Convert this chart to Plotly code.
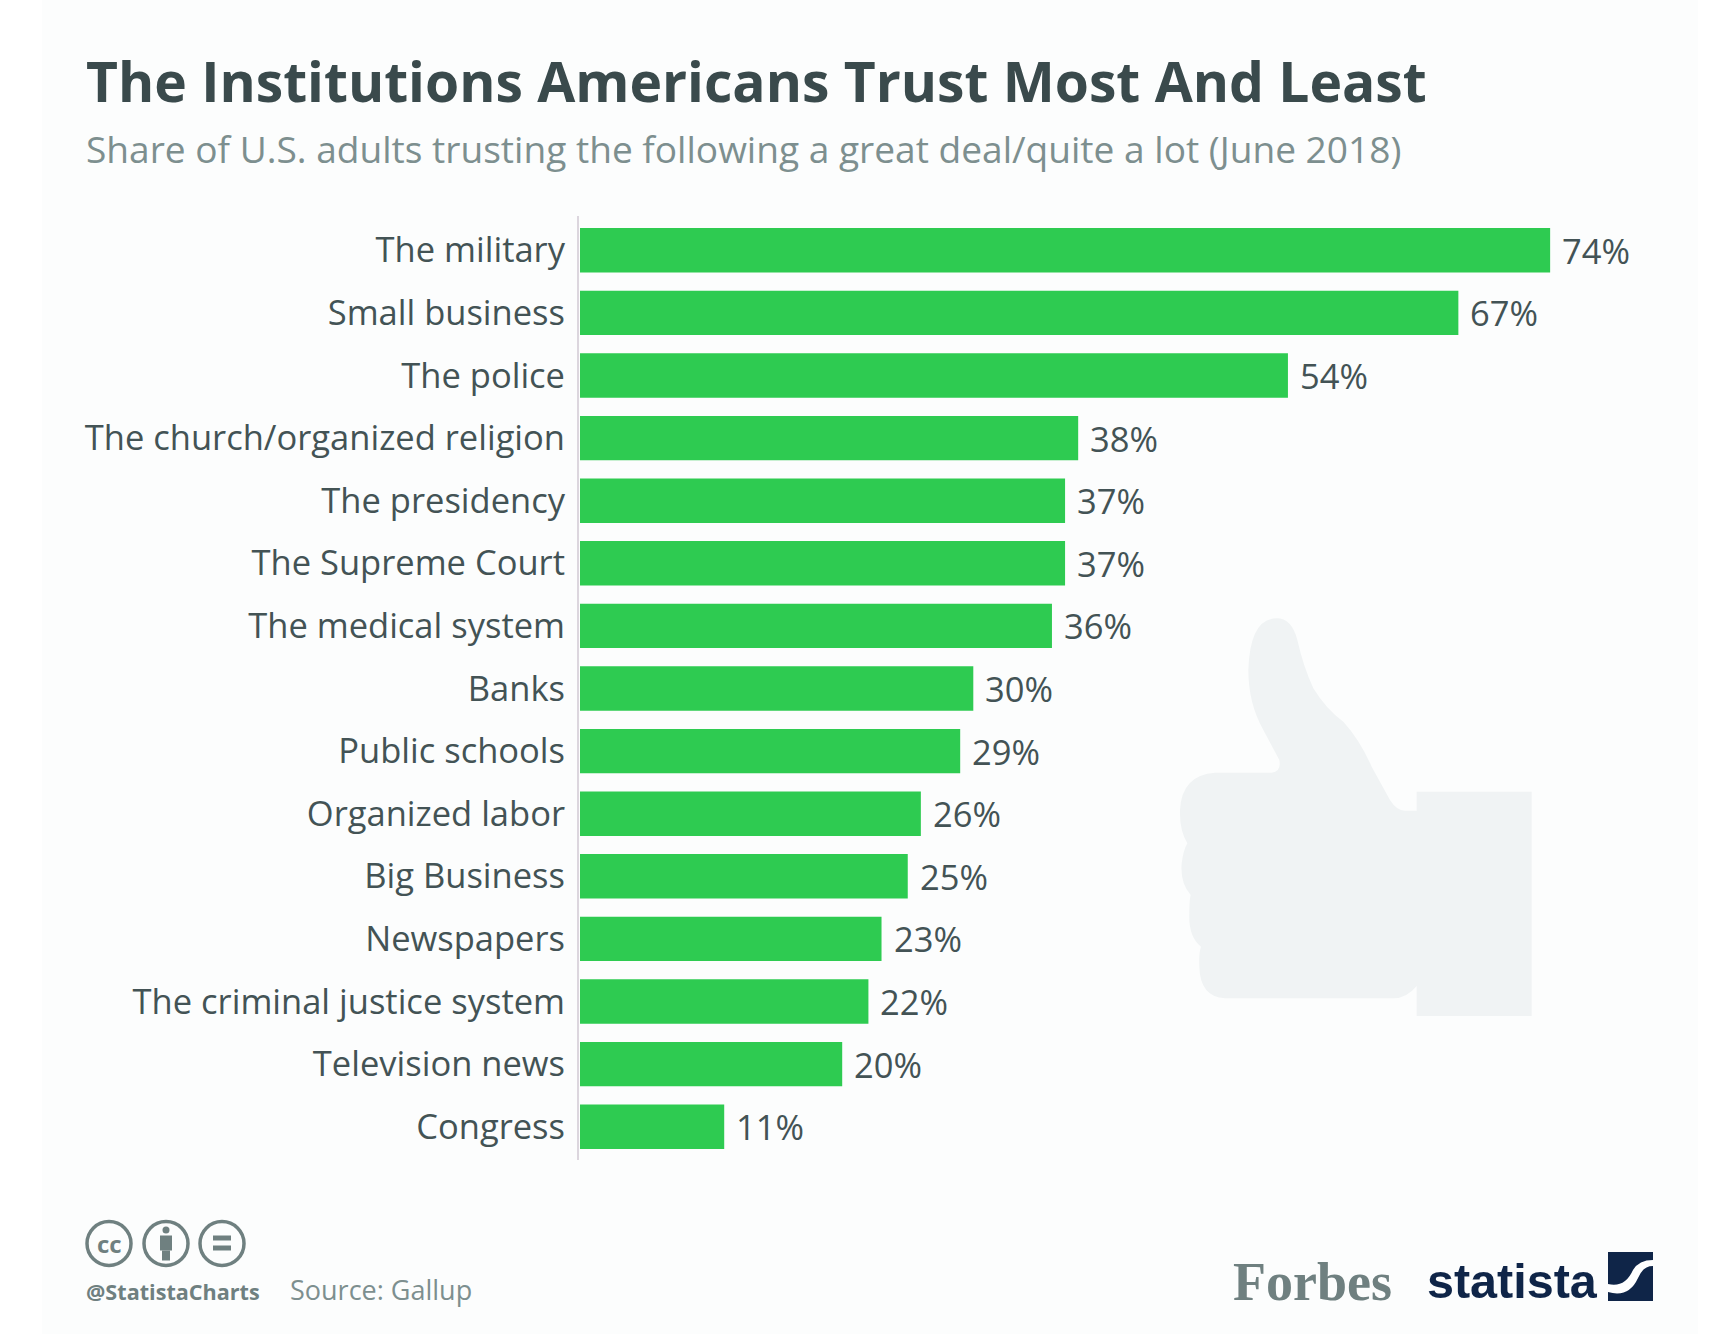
import plotly.graph_objects as go

W = 1732
H = 1334

institutions = ["The military", "Small business", "The police", "The church/organized religion",
                "The presidency", "The Supreme Court", "The medical system", "Banks", "Public schools",
                "Organized labor", "Big Business", "Newspapers", "The criminal justice system",
                "Television news", "Congress"]
trust_share = [74, 67, 54, 38, 37, 37, 36, 30, 29, 26, 25, 23, 22, 20, 11]

title_text = "The Institutions Americans Trust Most And Least"
subtitle_text = "Share of U.S. adults trusting the following a great deal/quite a lot (June 2018)"

GREEN = "#2ecb51"
DARK = "#3a4a4c"
LABEL = "#435355"
GREY = "#7d8f8f"
ICON = "#6f8080"
NAVY = "#0f2548"
PANEL = "#fcfdfd"
THUMB = "#f0f3f4"


def px(x):
    return x / W


def py(y):
    return 1 - y / H


def path(cmds):
    # svg path in image pixels -> paper coords
    out = []
    for c in cmds:
        if isinstance(c, str):
            out.append(c)
        else:
            out.append("%.5f,%.5f" % (px(c[0]), py(c[1])))
    return " ".join(out)


def zoomed(x, y):
    return (1100 + x / 3, 580 + y / 3)


thumb_pts = [(530, 115), "Q", (575, 115), (592, 180), "Q", (610, 260), (640, 325), "Q", (680, 390), (730, 425),
             "Q", (780, 480), (815, 560), "L", (870, 660), "Q", (890, 692), (915, 692), "L", (950, 692),
             "L", (950, 635), "L", (1295, 635), "L", (1295, 1308), "L", (950, 1308), "L", (950, 1218),
             "Q", (920, 1255), (880, 1255), "L", (375, 1255), "Q", (300, 1250), (298, 1160), "Q", (296, 1120), (303, 1100),
             "Q", (265, 1070), (268, 1000), "Q", (268, 960), (272, 945), "Q", (240, 910), (245, 850), "Q", (250, 810), (262, 790),
             "Q", (238, 750), (240, 690), "Q", (245, 585), (345, 578), "L", (515, 578), "Q", (545, 575), (538, 540),
             "L", (490, 450), "Q", (445, 370), (445, 270), "Q", (450, 115), (530, 115)]
thumb_cmds = ["M"] + [zoomed(*p) if not isinstance(p, str) else p for p in thumb_pts] + ["Z"]

fig = go.Figure()
fig.add_trace(go.Bar(x=trust_share, y=institutions, orientation="h", marker=dict(color=GREEN, line_width=0),
                     width=0.71, hoverinfo="skip"))

shapes = [
    dict(type="rect", xref="paper", yref="paper", x0=px(42), x1=px(1698), y0=py(0), y1=py(1334),
         fillcolor=PANEL, line_width=0, layer="below"),
    dict(type="path", xref="paper", yref="paper", path=path(thumb_cmds), fillcolor=THUMB, line_width=0, layer="below"),
    # axis line
    dict(type="line", xref="paper", yref="paper", x0=px(578), x1=px(578), y0=py(216), y1=py(1160),
         line=dict(color="#dcd6de", width=2), layer="below"),
]

# cc badges
cy = 1243.5
for cx in [109, 166, 222]:
    shapes.append(dict(type="circle", xref="paper", yref="paper", x0=px(cx - 22), x1=px(cx + 22),
                       y0=py(cy - 22), y1=py(cy + 22), line=dict(color=ICON, width=3.5)))
# person in the middle badge
shapes.append(dict(type="circle", xref="paper", yref="paper", x0=px(162.5), x1=px(169.5), y0=py(cy - 17), y1=py(cy - 10),
                   fillcolor=ICON, line_width=0))
shapes.append(dict(type="rect", xref="paper", yref="paper", x0=px(160), x1=px(172), y0=py(cy - 8), y1=py(cy + 7),
                   fillcolor=ICON, line_width=0))
shapes.append(dict(type="rect", xref="paper", yref="paper", x0=px(162), x1=px(170), y0=py(cy + 7), y1=py(cy + 17),
                   fillcolor=ICON, line_width=0))
# equals sign
for top in [cy - 8, cy + 2]:
    shapes.append(dict(type="rect", xref="paper", yref="paper", x0=px(213), x1=px(231), y0=py(top), y1=py(top + 5),
                       fillcolor=ICON, line_width=0))
# statista mark
mx = 1608
my = 1252
shapes.append(dict(type="rect", xref="paper", yref="paper", x0=px(mx), x1=px(mx + 45), y0=py(my), y1=py(my + 49),
                   fillcolor=NAVY, line_width=0))
shapes.append(dict(type="path", xref="paper", yref="paper",
                   path=path(["M", (mx, my + 32), "Q", (mx + 17, my + 36), (mx + 25, my + 18),
                              "Q", (mx + 31, my + 8), (mx + 45, my + 8), "L", (mx + 45, my + 14),
                              "Q", (mx + 35, my + 14), (mx + 30, my + 26), "Q", (mx + 21, my + 46), (mx, my + 40), "Z"]),
                   fillcolor="white", line_width=0))


def note(x, y, text, size, color, family="Open Sans", anchor="left", bold=False):
    fig.add_annotation(xref="paper", yref="paper", x=px(x), y=py(y), text="<b>%s</b>" % text if bold else text,
                       showarrow=False, xanchor=anchor, yanchor="middle", xshift=0, yshift=0,
                       font=dict(family=family, size=size, color=color))


note(84, 80, title_text, 55.2, DARK, bold=True)
note(84, 148, subtitle_text, 37.1, GREY)
note(109, cy, "cc", 24, ICON, anchor="center", bold=True)
note(84, 1291, "@StatistaCharts", 21.6, ICON, bold=True)
note(288, 1289, "Source: Gallup", 27, GREY)
note(1231, 1282, "Forbes", 54, ICON, family="Liberation Serif", bold=True)
note(1425, 1281, "statista", 48.5, NAVY, family="Liberation Sans", bold=True)

# value labels next to the bars
for name, val in zip(institutions, trust_share):
    fig.add_annotation(x=val, y=name, text="%d%%" % val, showarrow=False, xanchor="left", xshift=10,
                       font=dict(family="Open Sans", size=34.5, color=LABEL))

fig.update_layout(
    width=W, height=H, autosize=False, margin=dict(l=0, r=0, t=0, b=0, pad=0),
    paper_bgcolor="white", plot_bgcolor="rgba(0,0,0,0)", showlegend=False, shapes=shapes,
    xaxis=dict(domain=[px(580), 1], range=[0, (W - 580) / 13.11], visible=False),
    yaxis=dict(domain=[py(1158), py(219)], autorange=False, range=[14.5, -0.5], type="category",
               categoryorder="array", categoryarray=institutions, showline=False, showgrid=False,
               ticks="", ticklabelstandoff=14, tickfont=dict(family="Open Sans", size=34.5, color=LABEL)),
)

fig.write_html("out.html", config=dict(displayModeBar=False),
               post_script="document.body.style.margin='0';document.body.style.overflow='hidden';")
